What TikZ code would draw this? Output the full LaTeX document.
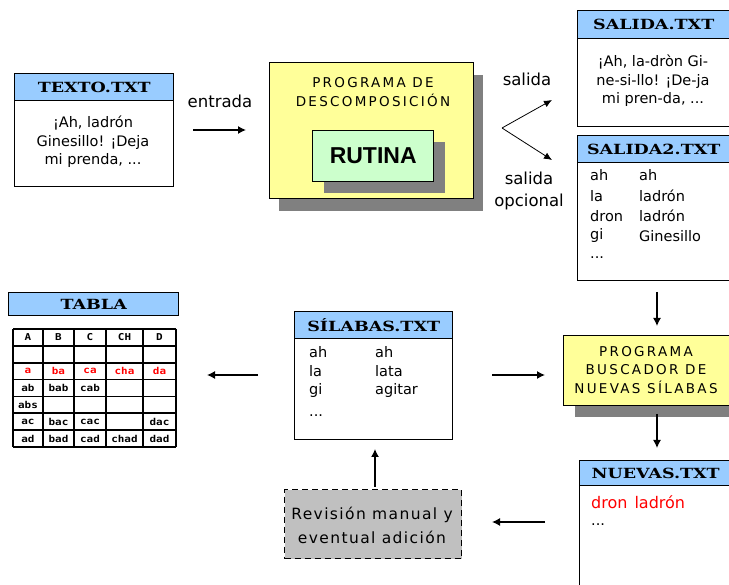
\documentclass[tikz,border=0pt]{standalone}
\usepackage{fontspec}
\setmainfont{DejaVu Sans}
\newfontfamily\hdrfont[FakeStretch=1.25]{DejaVu Serif}
\newfontfamily\cellfont[FakeStretch=1.15]{DejaVu Sans Mono}
\newfontfamily\rutfont{Liberation Sans}
\usetikzlibrary{arrows.meta}
\definecolor{hdrblue}{HTML}{99CCFF}
\definecolor{progyellow}{HTML}{FFFF99}
\definecolor{rutgreen}{HTML}{CCFFCC}
\definecolor{shadowgray}{HTML}{808080}
\definecolor{revgray}{HTML}{C0C0C0}
\tikzset{
  hdr/.style={draw=black, line width=1.4pt, fill=hdrblue, anchor=north west, inner sep=0pt,
    font=\hdrfont\bfseries\fontsize{14}{16}\selectfont},
  filebody/.style={draw=black, line width=1.4pt, fill=white, anchor=north west, inner sep=0pt},
  txt/.style={inner sep=0pt, font=\fontsize{14.5}{18.5}\selectfont},
  lbl/.style={inner sep=0pt, font=\fontsize{16.5}{22}\selectfont},
  ltxt/.style={inner sep=0pt, anchor=west, font=\fontsize{14.5}{16}\selectfont},
  progbox/.style={draw=black, line width=1.4pt, fill=progyellow, anchor=north west, inner sep=0pt},
  shadowbox/.style={fill=shadowgray, draw=none, anchor=north west, inner sep=0pt},
  progtxt/.style={inner sep=0pt, align=center, font=\fontsize{13.5}{18.5}\selectfont\addfontfeature{LetterSpace=17}},
  arr/.style={-{Latex[length=8pt,width=8pt]}, line width=1.3pt},
  thinarr/.style={-{Latex[length=8pt,width=7pt]}, line width=0.8pt},
  cell/.style={inner sep=0pt, font=\cellfont\bfseries\fontsize{9.5}{10}\selectfont},
}
\begin{document}
\begin{tikzpicture}[x=1pt,y=-1pt]
\useasboundingbox (0,0) rectangle (729,585);
\fill[white] (0,0) rectangle (729,585);

% TEXTO.TXT
\node[filebody, minimum width=159pt, minimum height=86pt] (textob) at (14,100) {};
\node[hdr, minimum width=159pt, minimum height=27pt] (textoh) at (14,73) {TEXTO.TXT};
\node[txt, align=center] (textot) at (93,142) {¡Ah, ladrón\\Ginesillo! ¡Deja\\mi prenda, ...};

% entrada
\node[lbl] (entrada) at (220,101) {entrada};
\coordinate (e1) at (193,130);
\coordinate (e2) at (246,130);
\draw[arr] (e1) -- (e2);

% Programa de descomposicion
\node[shadowbox, minimum width=204pt, minimum height=136pt] (progsh) at (279,75) {};
\node[progbox, minimum width=204pt, minimum height=136pt] (prog) at (269,62) {};
\node[progtxt] (progt) at (373,92) {PROGRAMA DE\\DESCOMPOSICIÓN};
\node[shadowbox, minimum width=121pt, minimum height=51pt] (rutsh) at (324,142) {};
\node[draw=black, line width=1.4pt, fill=rutgreen, anchor=north west, inner sep=0pt,
  minimum width=121pt, minimum height=51pt, font=\rutfont\bfseries\fontsize{23}{25}\selectfont] (rutina) at (312,130) {RUTINA};

% branch
\coordinate (b0) at (502,128);
\coordinate (b1) at (552,100);
\coordinate (b2) at (552,160);
\draw[thinarr] (b0) -- (b1);
\draw[thinarr] (b0) -- (b2);
\node[lbl] (salidal) at (527,79) {salida};
\node[lbl, align=center] (opcl) at (529,191) {salida\\opcional};

% SALIDA.TXT
\node[filebody, minimum width=152pt, minimum height=88pt] (salb) at (577,38) {};
\node[hdr, minimum width=152pt, minimum height=28pt] (salh) at (577,10) {SALIDA.TXT};
\node[txt, align=center] (salt) at (653,81) {¡Ah, la-dròn Gi-\\ne-si-llo! ¡De-ja\\mi pren-da, ...};

% SALIDA2.TXT
\node[filebody, minimum width=152pt, minimum height=118pt] (sal2b) at (577,162) {};
\node[hdr, minimum width=152pt, minimum height=27pt] (sal2h) at (577,135) {SALIDA2.TXT};
\node[ltxt] (s2a1) at (590,175) {ah};
\node[ltxt] (s2b1) at (639,175) {ah};
\node[ltxt] (s2a2) at (590,196) {la};
\node[ltxt] (s2b2) at (639,196) {ladrón};
\node[ltxt] (s2a3) at (590,216) {dron};
\node[ltxt] (s2b3) at (639,216) {ladrón};
\node[ltxt] (s2a4) at (590,236) {gi};
\node[ltxt] (s2b4) at (639,236) {Ginesillo};
\node[ltxt] (s2a5) at (590,258) {...};

\coordinate (d1) at (657,292);
\coordinate (d2) at (657,326);
\draw[arr] (d1) -- (d2);

% Programa buscador
\node[shadowbox, minimum width=160pt, minimum height=70pt] (bussh) at (575,347) {};
\node[progbox, minimum width=170pt, minimum height=70pt] (bus) at (563,335) {};
\node[progtxt] (bust) at (646,370) {PROGRAMA\\BUSCADOR DE\\NUEVAS SÍLABAS};

\coordinate (d3) at (657,414);
\coordinate (d4) at (657,448);
\draw[arr] (d3) -- (d4);

% NUEVAS.TXT
\node[filebody, minimum width=152pt, minimum height=110pt] (nuevb) at (579,485) {};
\node[hdr, minimum width=152pt, minimum height=25pt] (nuevh) at (579,460) {NUEVAS.TXT};
\node[ltxt, text=red, font=\fontsize{16}{18}\selectfont] (nuevt) at (591,502) {dron\hspace{7pt}ladrón};
\node[ltxt] (nuevd) at (591,525) {...};

\coordinate (l1) at (545,522);
\coordinate (l2) at (492,522);
\draw[arr] (l1) -- (l2);

% Revision
\node[draw=black, dash pattern=on 6pt off 4pt, line width=1.3pt, fill=revgray, anchor=north west, inner sep=0pt,
  minimum width=177pt, minimum height=69pt] (rev) at (284,489) {};
\node[inner sep=0pt, align=center, font=\fontsize{15.5}{24}\selectfont\addfontfeature{LetterSpace=9}] (revt) at (372,525) {Revisión manual y\\eventual adición};

\coordinate (u1) at (375,487);
\coordinate (u2) at (375,449);
\draw[arr] (u1) -- (u2);

% SILABAS.TXT
\node[filebody, minimum width=158pt, minimum height=101pt] (silb) at (294,338) {};
\node[hdr, minimum width=158pt, minimum height=27pt] (silh) at (294,311) {SÍLABAS.TXT};
\node[ltxt] (sa1) at (309,352) {ah};
\node[ltxt] (sb1) at (375,352) {ah};
\node[ltxt] (sa2) at (309,371) {la};
\node[ltxt] (sb2) at (375,371) {lata};
\node[ltxt] (sa3) at (309,391) {gi};
\node[ltxt] (sb3) at (375,391) {agitar};
\node[ltxt] (sa4) at (309,416) {...};

\coordinate (r1) at (492,375);
\coordinate (r2) at (545,375);
\draw[arr] (r1) -- (r2);
\coordinate (k1) at (258,375);
\coordinate (k2) at (207,375);
\draw[arr] (k1) -- (k2);

% TABLA
\node[hdr, minimum width=170pt, minimum height=23pt] (tablah) at (8,292) {TABLA};
\foreach \xx in {13,43,74,106,143,176} {
  \draw[line width=1.6pt] (\xx,329) -- (\xx,447);
}
\foreach \i in {0,...,7} {
  \draw[line width=1.6pt] (13,329+\i*16.857) -- (176,329+\i*16.857);
}
\node[cell] (c11) at (28,337) {A};
\node[cell] (c12) at (58.5,337) {B};
\node[cell] (c13) at (90,337) {C};
\node[cell] (c14) at (124.5,337) {CH};
\node[cell] (c15) at (159.5,337) {D};
\node[cell, text=red] (c31) at (28,371) {a};
\node[cell, text=red] (c32) at (58.5,371) {ba};
\node[cell, text=red] (c33) at (90,371) {ca};
\node[cell, text=red] (c34) at (124.5,371) {cha};
\node[cell, text=red] (c35) at (159.5,371) {da};
\node[cell] (c41) at (28,388) {ab};
\node[cell] (c42) at (58.5,388) {bab};
\node[cell] (c43) at (90,388) {cab};
\node[cell] (c51) at (28,404.5) {abs};
\node[cell] (c61) at (28,421.5) {ac};
\node[cell] (c62) at (58.5,421.5) {bac};
\node[cell] (c63) at (90,421.5) {cac};
\node[cell] (c65) at (159.5,421.5) {dac};
\node[cell] (c71) at (28,438.5) {ad};
\node[cell] (c72) at (58.5,438.5) {bad};
\node[cell] (c73) at (90,438.5) {cad};
\node[cell] (c74) at (124.5,438.5) {chad};
\node[cell] (c75) at (159.5,438.5) {dad};
\end{tikzpicture}
\end{document}
